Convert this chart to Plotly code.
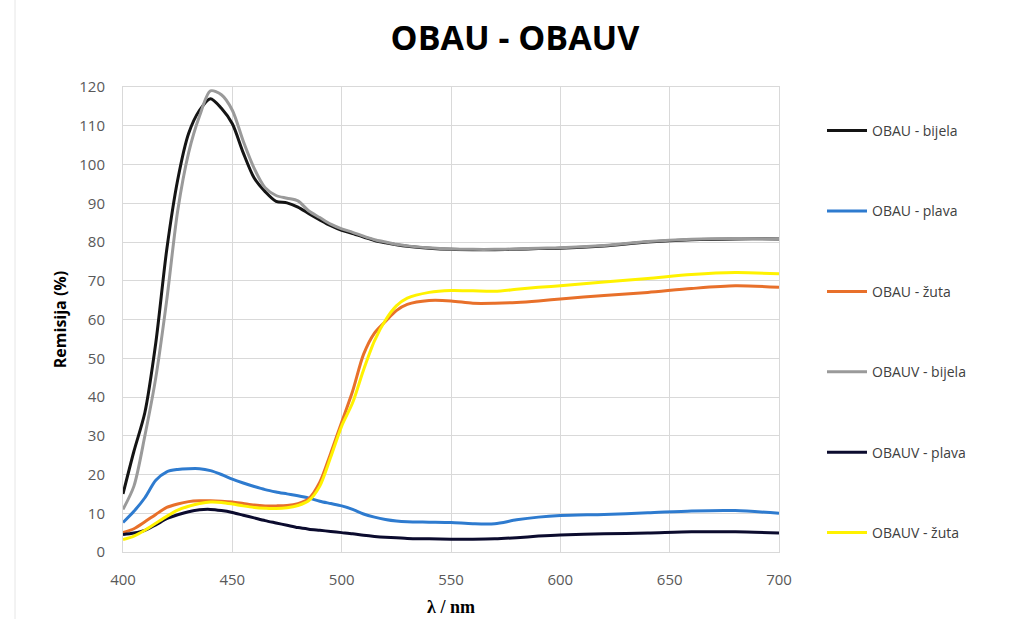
import plotly.graph_objects as go

wavelength = [400, 405, 410, 415, 420, 425, 430, 435, 440, 445, 450, 455, 460, 465, 470,
              475, 480, 485, 490, 495, 500, 505, 510, 515, 520, 525, 530, 540, 550, 560,
              570, 580, 590, 600, 620, 640, 660, 680, 700]

obau_bijela = [15, 26, 36, 54, 78, 96, 108, 114, 117, 114.5, 110.5, 103, 96.5, 93, 90.5,
               90.1, 89, 87.3, 85.7, 84.2, 83, 82.2, 81.3, 80.4, 79.8, 79.3, 78.9, 78.4, 78.1, 78,
               78, 78.1, 78.3, 78.4, 79, 80, 80.6, 80.8, 80.8]
obau_plava = [7.6, 10.5, 14, 18.5, 20.7, 21.3, 21.5, 21.5, 21, 20, 18.8, 17.8, 16.9, 16.1, 15.5,
              15, 14.5, 13.9, 13.1, 12.5, 11.9, 11, 9.8, 9, 8.4, 8.0, 7.8, 7.7, 7.6, 7.3,
              7.3, 8.3, 9.0, 9.4, 9.7, 10.1, 10.6, 10.7, 10.0]
obau_zuta = [5, 6, 7.8, 9.7, 11.5, 12.4, 13, 13.2, 13.2, 13.1, 12.9, 12.5, 12.1, 11.9, 11.9,
             12, 12.5, 13.8, 18, 25.5, 33.5, 41.5, 51, 56.5, 59.5, 62.3, 63.9, 64.9, 64.8, 64.2,
             64.2, 64.4, 64.8, 65.3, 66.2, 67, 68, 68.7, 68.3]
obauv_bijela = [11, 17, 30, 45, 65, 88, 103, 112.5, 119, 118, 114, 106, 99, 94, 92,
                91.3, 90.6, 88, 86.3, 84.6, 83.4, 82.5, 81.5, 80.6, 80, 79.4, 79, 78.5, 78.2, 78.1,
                78.1, 78.2, 78.4, 78.5, 79.1, 80.1, 80.7, 80.9, 80.8]
obauv_plava = [4.5, 4.9, 5.6, 7, 8.6, 9.6, 10.4, 10.9, 11, 10.7, 10.2, 9.5, 8.8, 8.1, 7.5,
               6.9, 6.3, 5.9, 5.6, 5.3, 5.0, 4.7, 4.3, 4.0, 3.8, 3.7, 3.5, 3.4, 3.3, 3.3,
               3.4, 3.7, 4.1, 4.4, 4.7, 4.9, 5.2, 5.2, 4.9]
obauv_zuta = [3.2, 4.1, 5.6, 7.4, 9.2, 10.8, 11.8, 12.5, 12.9, 12.8, 12.4, 11.9, 11.5, 11.3, 11.2,
              11.4, 12, 13.3, 17, 24.5, 32.5, 38.5, 47, 54.5, 59.8, 63.5, 65.5, 67, 67.5, 67.4,
              67.3, 67.8, 68.3, 68.7, 69.7, 70.6, 71.6, 72.1, 71.8]

series_names = ["OBAU - bijela", "OBAU - plava", "OBAU - žuta",
                "OBAUV - bijela", "OBAUV - plava", "OBAUV - žuta"]
series_values = [obau_bijela, obau_plava, obau_zuta, obauv_bijela, obauv_plava, obauv_zuta]
series_colors = ["#141414", "#2E7BCF", "#E8702A", "#9A9A9A", "#0B0B2E", "#FFF200"]

x_ticks = [400, 450, 500, 550, 600, 650, 700]
y_ticks = list(range(0, 121, 10))

fig = go.Figure()
for i, (name, vals, col) in enumerate(zip(series_names, series_values, series_colors)):
    fig.add_trace(go.Scatter(
        x=wavelength, y=vals, name=name, mode="lines",
        line=dict(color=col, width=3, shape="spline", smoothing=0.8),
        legendgroup="g%d" % i,
    ))

grid = "#D9D9D9"
fig.update_layout(
    width=1012, height=619,
    margin=dict(l=123, r=233, t=87, b=67),
    paper_bgcolor="white", plot_bgcolor="white",
    font=dict(family="Open Sans", color="#595959"),
    title=dict(text="<b>OBAU - OBAUV</b>", x=515 / 1012, xanchor="center",
               y=1 - 38 / 619, yanchor="middle",
               font=dict(family="Open Sans", size=34, color="#000000")),
    xaxis=dict(range=[400, 700], tickvals=x_ticks, showgrid=True, gridcolor=grid,
               gridwidth=1, showline=True, linecolor=grid, mirror=True, zeroline=False,
               automargin=False,
               ticks="", ticklabelstandoff=14, tickfont=dict(size=15, color="#595959"),
               title=dict(text="<b>λ / nm</b>", standoff=12,
                          font=dict(family="Liberation Serif", size=18, color="#000000"))),
    yaxis=dict(range=[0, 120], tickvals=y_ticks, showgrid=True, gridcolor=grid,
               gridwidth=1, showline=True, linecolor=grid, mirror=True, zeroline=False,
               automargin=False,
               ticks="", ticklabelstandoff=14, tickfont=dict(size=15, color="#595959"),
               title=dict(text="<b>Remisija (%)</b>", standoff=8,
                          font=dict(family="Open Sans", size=16, color="#000000"))),
    legend=dict(x=(822 - 123) / 656, xanchor="left", y=(552 - 115) / 465, yanchor="top",
                tracegroupgap=59.2, itemwidth=40, bgcolor="rgba(0,0,0,0)",
                font=dict(family="Open Sans", size=14, color="#404040")),
    showlegend=True,
)

fig.add_shape(type="line", xref="paper", yref="paper",
              x0=(15 - 123) / 656, x1=(15 - 123) / 656, y0=-67 / 465, y1=(552 - 0) / 465,
              line=dict(color="#E6E6E6", width=1))

fig.write_html("out.html", config={"displayModeBar": False},
               post_script="document.body.style.margin='0';")
